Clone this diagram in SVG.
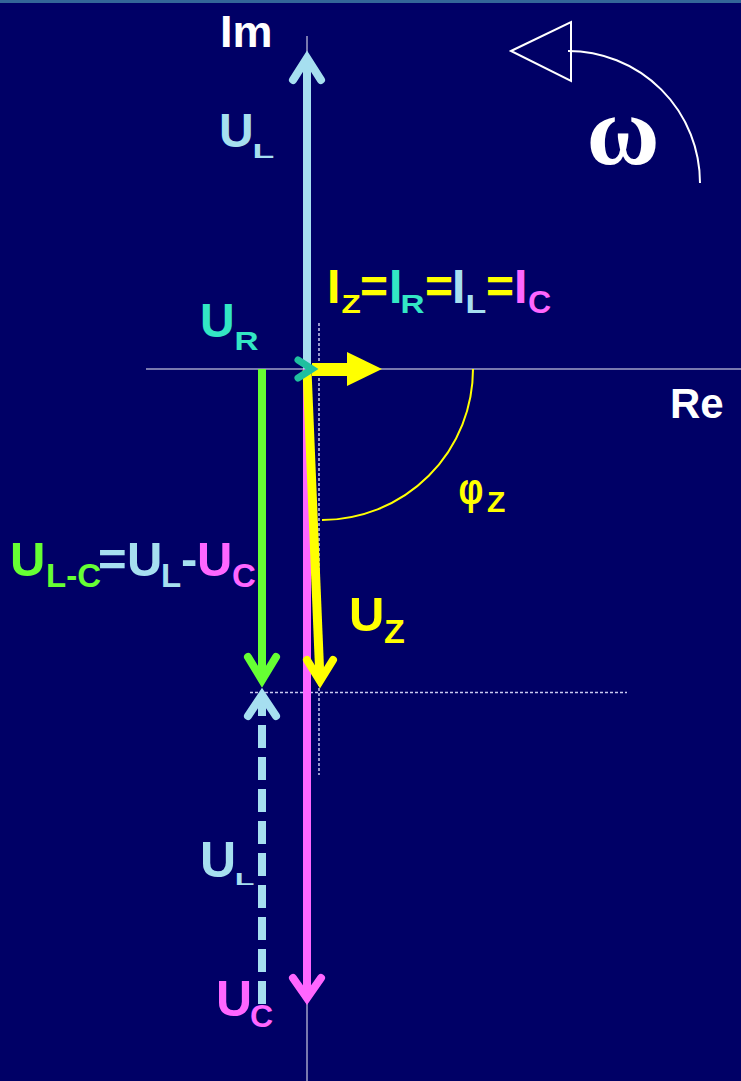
<svg xmlns="http://www.w3.org/2000/svg" width="741" height="1081" viewBox="0 0 741 1081">
<style>
text{font-family:"Liberation Sans",Arial,sans-serif;font-weight:bold}
.ax{stroke:#a0a0c8;stroke-width:1.5;fill:none}
.dot{stroke:#c8c8f0;stroke-width:1.5;stroke-dasharray:3 2;fill:none}
.ph{fill:none;stroke-width:8;stroke-linejoin:miter;stroke-linecap:round}
.sh{fill:none;stroke-width:8;stroke-linecap:butt}
.lb{fill:#a6dff0}.tl{fill:#33e6c4}.gr{fill:#66ff33}.mg{fill:#ff66ff}.yl{fill:#ffff00}.wh{fill:#ffffff}
</style>
<rect x="0" y="0" width="741" height="1081" fill="#000066"/>
<rect x="0" y="0" width="741" height="3" fill="#336699"/>
<g id="axes">
<line class="ax" x1="146" y1="369" x2="741" y2="369"/>
<line class="ax" x1="307" y1="36" x2="307" y2="1081"/>
<line class="dot" x1="319" y1="323" x2="319" y2="775"/>
<line class="dot" x1="250" y1="692.5" x2="627" y2="692.5"/>
</g>
<g id="connectors">
<g id="UC-phasor" stroke="#ff66ff">
<line class="sh" x1="307" y1="369" x2="307" y2="996"/>
<path class="ph" d="M293,978 L307,998 L321,978"/>
</g>
<g id="UL-phasor" stroke="#a6dff0">
<line class="sh" x1="307" y1="369" x2="307" y2="60"/>
<path class="ph" d="M293,80 L307,58 L321,80"/>
</g>
<g id="ULC-phasor" stroke="#66ff33">
<line class="sh" x1="262" y1="369" x2="262" y2="678"/>
<path class="ph" d="M248,657 L262,680 L276,657"/>
</g>
<g id="UL-shifted" stroke="#a6dff0">
<line class="sh" x1="262" y1="1004" x2="262" y2="700" stroke-dasharray="23 9"/>
<path class="ph" d="M248,716 L262,695 L276,716"/>
</g>
<g id="UZ-phasor" stroke="#ffff00">
<line class="sh" x1="307" y1="370" x2="320" y2="680" style="stroke-width:9"/>
<path class="ph" d="M307,660 L320,681 L333,660"/>
</g>
<g id="I-phasor" fill="#ffff00">
<rect x="312" y="363" width="36" height="13"/>
<polygon points="347,352 382,369 347,386"/>
</g>
<g id="UR-phasor" stroke="#1fbf9f">
<path class="ph" d="M298,360 L312,369 L298,378" style="stroke-width:7"/>
</g>
<path id="phi-arc" d="M473,369 A151,151 0 0 1 322,520" fill="none" stroke="#ffff00" stroke-width="2"/>
<g id="omega-arrow" fill="none" stroke="#ffffff" stroke-width="2">
<path d="M700,183 A132,132 0 0 0 568,51"/>
<polygon points="511,51 571,22 571,81"/>
</g>
</g>
<g id="label-Im"><text class="wh" x="220" y="47" font-size="45">Im</text></g>
<g id="label-Re"><text class="wh" x="670" y="418" font-size="42">Re</text></g>
<g id="label-omega"><text class="wh" x="623" y="164" font-size="100" text-anchor="middle" style="font-family:'Liberation Serif','Times New Roman',serif;font-weight:bold">ω</text></g>
<g id="label-UL-top"><text class="lb" x="219" y="147" font-size="48">U</text><text class="lb" transform="translate(252.4,158) scale(1.7,1)" font-size="21">L</text></g>
<g id="label-UR"><text class="tl" x="200" y="337" font-size="48">U</text><text class="tl" transform="translate(234.6,350) scale(1.33,1)" font-size="25">R</text></g>
<g id="label-I">
<text class="yl" x="327" y="303" font-size="48">I</text><text class="yl" transform="translate(341.5,313) scale(1.26,1)" font-size="25">Z</text>
<text class="yl" x="360" y="303" font-size="48">=</text>
<text class="tl" x="389" y="303" font-size="48">I</text><text class="tl" transform="translate(400.6,313) scale(1.33,1)" font-size="25">R</text>
<text class="yl" x="425" y="303" font-size="48">=</text>
<text class="lb" x="452" y="303" font-size="48">I</text><text class="lb" transform="translate(465.5,313) scale(1.36,1)" font-size="25">L</text>
<text class="yl" x="486" y="303" font-size="48">=</text>
<text class="mg" x="514" y="303" font-size="48">I</text><text class="mg" x="528" y="313" font-size="32">C</text>
</g>
<g id="label-ULC">
<text class="gr" x="10" y="576" font-size="49">U</text><text class="gr" x="46" y="587" font-size="33">L-C</text>
<text class="lb" x="98" y="576" font-size="49">=</text>
<text class="lb" x="127" y="576" font-size="49">U</text><text class="lb" x="161" y="587" font-size="33">L</text>
<text class="lb" x="181" y="576" font-size="49">-</text>
<text class="mg" x="197" y="576" font-size="49">U</text><text class="mg" x="232" y="587" font-size="33">C</text>
</g>
<g id="label-UZ"><text class="yl" x="349" y="631" font-size="49">U</text><text class="yl" x="384" y="643" font-size="34">Z</text></g>
<g id="label-phi"><text class="yl" transform="translate(458.4,504) scale(0.79,1)" font-size="44">φ</text><text class="yl" x="487" y="512" font-size="30">Z</text></g>
<g id="label-UL-bottom"><text class="lb" x="200" y="877" font-size="50">U</text><text class="lb" transform="translate(234.7,885) scale(1.9,1)" font-size="17">L</text></g>
<g id="label-UC"><text class="mg" x="216" y="1016" font-size="50">U</text><text class="mg" x="250" y="1027" font-size="32">C</text></g>
</svg>
